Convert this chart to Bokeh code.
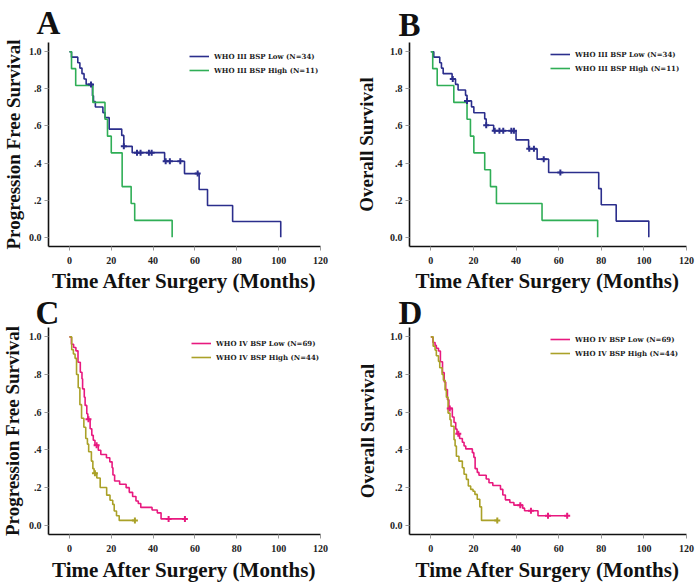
from bokeh.plotting import figure
from bokeh.layouts import gridplot
from bokeh.models import Range1d, FixedTicker, Legend, LegendItem, Title
from bokeh.embed import file_html
from bokeh.resources import INLINE

# ---------------- data ----------------
X_TICKS = [0, 20, 40, 60, 80, 100, 120]
Y_TICKS = [0.0, 0.2, 0.4, 0.6, 0.8, 1.0]
Y_TICK_LABELS = ["0.0", ".2", ".4", ".6", ".8", "1.0"]

# Panel A: WHO III, progression free survival
a_low_t = [0, 1, 4, 5, 6, 7, 8, 11, 11.5, 12.4, 16, 17, 19, 25, 26, 30, 45.5, 55, 62, 66, 78, 101]
a_low_s = [1.0, .971, .941, .912, .882, .853, .824, .763, .732, .702, .672, .645, .583, .549, .490, .456, .410, .343, .257, .171, .085, 0.0]
a_low_ct = [10.3, 26, 32.3, 34, 38, 39.3, 46, 48, 53, 61.3]
a_low_cs = [.824, .490, .456, .456, .456, .456, .410, .410, .410, .343]
a_high_t = [0, 1, 3, 11.2, 17, 18.2, 20, 25.2, 29.5, 31.2, 49.1]
a_high_s = [1.0, .909, .818, .727, .636, .545, .455, .273, .182, .091, 0.0]

# Panel B: WHO III, overall survival
b_low_t = [0, 1.4, 4.2, 5, 5.8, 10, 11.6, 12.8, 16.3, 17, 19.1, 20.2, 25.3, 26, 29.5, 40, 45.9, 49.9, 55.3, 78.8, 80, 87, 102.3]
b_low_s = [1.0, .971, .941, .912, .882, .853, .824, .794, .765, .735, .703, .671, .638, .604, .574, .525, .477, .421, .349, .262, .175, .087, 0.0]
b_low_ct = [10.3, 17, 26, 30, 32.2, 34, 37.8, 39, 46.2, 48.4, 53, 60.8]
b_low_cs = [.853, .735, .604, .574, .574, .574, .574, .574, .477, .477, .421, .349]
b_high_t = [0, 0.9, 3, 10.8, 17, 18.6, 20.2, 25.3, 28, 30.8, 52.2, 78.3]
b_high_s = [1.0, .909, .818, .727, .636, .545, .455, .364, .273, .182, .091, 0.0]

# Panel C: WHO IV, progression free survival
c_low_t = [0, 0.95, 2, 3.1, 4.1, 5.2, 6.0, 6.3, 7.1, 7.5, 8.3, 8.8, 9.9, 10.7, 11.4, 12.2, 13.8, 15.0, 17.7, 19.3, 20.4,
           20.8, 21.6, 24, 27.1, 28.6, 30.2, 31.8, 32.9, 34.1, 39.5, 42, 43.8, 55.2]
c_low_s = [1.0, .961, .944, .926, .865, .812, .777, .724, .68, .636, .592, .562, .512, .477, .451, .424, .398, .375, .358, .336, .305,
           .266, .234, .217, .199, .174, .152, .128, .115, .094, .08, .065, .033, .033]
c_low_ct = [9.1, 13, 47.4, 55.2]
c_low_cs = [.562, .424, .033, .033]
c_high_t = [0, 1.1, 1.9, 2.7, 3.4, 4.2, 5.0, 5.8, 6.9, 7.8, 8.6, 9.2, 10.5, 11.2, 11.8, 13.1, 14.7, 17.8, 19.4, 20.7, 21.4, 22.5, 23.8, 31.3]
c_high_s = [1.0, .932, .909, .886, .80, .73, .64, .568, .52, .46, .43, .39, .34, .30, .275, .25, .20, .159, .132, .11, .075, .05, .025, .025]
c_high_ct = [12.2, 31.3]
c_high_cs = [.275, .025]

# Panel D: WHO IV, overall survival
d_low_t = [0, 1, 2, 2.6, 3.6, 4.5, 5.5, 6.3, 7, 7.8, 8.5, 10.1, 10.9, 11.7, 12.3, 13.5, 14.8, 15.6, 16.4, 19.5, 20.2, 20.8, 21.8,
           22.6, 26, 27.3, 29.1, 32.7, 33.8, 35, 37.1, 39, 43.1, 44, 50.3, 64]
d_low_s = [1.0, .97, .955, .94, .925, .868, .81, .76, .72, .666, .62, .574, .545, .51, .485, .46, .44, .42, .405, .385, .36, .30, .28,
           .265, .245, .225, .21, .19, .16, .134, .12, .106, .09, .076, .05, .05]
d_low_ct = [8.9, 12.9, 42, 47, 55, 64]
d_low_cs = [.62, .485, .106, .076, .05, .05]
d_high_t = [0, 1.1, 2, 2.6, 3.6, 4.2, 5.3, 5.9, 6.7, 7.3, 8.1, 9, 9.5, 10.9, 11.4, 12, 13.2, 14.8, 15.6, 16.7, 17.6, 18.7, 19.8,
            20.7, 21.8, 23, 23.8, 31.2]
d_high_s = [1.0, .95, .93, .9, .87, .836, .80, .77, .718, .68, .595, .56, .525, .454, .42, .366, .34, .305, .27, .243, .208, .19, .18,
            .163, .137, .097, .025, .025]
d_high_ct = [31.2]
d_high_cs = [.025]

# ---------------- styling / layout ----------------
FONT = "Liberation Serif"
LEG_FONT = "DejaVu Serif"
BLUE = "#2b2e8c"
GREEN = "#2fae56"
PINK = "#e8197f"
OLIVE = "#aaa128"
X_RANGE = (-10, 120)
Y_RANGE = (-0.05, 1.05)

# figure size, frame borders (left, top) and frame size, title standoffs
SPECS = {
    "A": dict(W=348, H=294, bl=47, bt=42, fw=273, fh=204, ttl_off=-12, ttl_so=3, ylab_so=0, xlab_so=1, leg=(141, 169)),
    "B": dict(W=347, H=294, bl=61, bt=38, fw=277, fh=208, ttl_off=-11, ttl_so=0, ylab_so=15, xlab_so=1, leg=(141, 171)),
    "C": dict(W=348, H=290, bl=48, bt=32, fw=277, fh=208, ttl_off=-13, ttl_so=-7, ylab_so=2, xlab_so=3, leg=(143, 170)),
    "D": dict(W=347, H=290, bl=60, bt=33, fw=278, fh=208, ttl_off=-11, ttl_so=-6, ylab_so=14, xlab_so=2, leg=(141, 174)),
}


def panel(key, ylabel, low, high, low_lbl, high_lbl, c_low, c_high):
    sp = SPECS[key]
    p = figure(width=sp["W"], height=sp["H"], x_range=Range1d(*X_RANGE), y_range=Range1d(*Y_RANGE),
               output_backend="svg", toolbar_location=None, title=None,
               min_border_left=sp["bl"], min_border_top=sp["bt"],
               min_border_right=sp["W"] - sp["bl"] - sp["fw"],
               min_border_bottom=sp["H"] - sp["bt"] - sp["fh"])
    p.outline_line_color = None
    p.xgrid.visible = False
    p.ygrid.visible = False
    p.background_fill_color = "white"
    p.border_fill_color = "white"
    p.xaxis.ticker = FixedTicker(ticks=X_TICKS)
    p.yaxis.ticker = FixedTicker(ticks=Y_TICKS)
    p.yaxis.major_label_overrides = dict(zip(Y_TICKS, Y_TICK_LABELS))
    for ax in (p.xaxis, p.yaxis):
        ax.axis_line_color = "#111111"
        ax.axis_line_width = 1.6
        ax.major_tick_line_color = "#999999"
        ax.major_tick_in = 0
        ax.major_tick_out = 4
        ax.minor_tick_line_color = None
        ax.major_label_text_font = FONT
        ax.major_label_text_font_style = "bold"
        ax.major_label_text_font_size = "10px"
        ax.major_label_text_color = "#222222"
    p.xaxis.major_label_standoff = 6
    p.yaxis.major_label_standoff = 3

    (lt, ls, lct, lcs) = low
    (ht, hs, hct, hcs) = high
    r_low = p.step(lt, ls, mode="after", line_color=c_low, line_width=1.6)
    r_high = p.step(ht, hs, mode="after", line_color=c_high, line_width=1.6)
    if lct:
        p.scatter(lct, lcs, marker="cross", size=6, line_width=2, color=c_low)
    if hct:
        p.scatter(hct, hcs, marker="cross", size=6, line_width=2, color=c_high)

    legend = Legend(items=[LegendItem(label=low_lbl, renderers=[r_low]),
                           LegendItem(label=high_lbl, renderers=[r_high])],
                    location=sp["leg"], padding=0, margin=0, spacing=0,
                    glyph_width=20, glyph_height=14, label_height=14, label_standoff=5,
                    label_text_font=LEG_FONT, label_text_font_style="bold", label_text_font_size="7px",
                    label_text_color="#222222", border_line_color=None, background_fill_alpha=0)
    p.add_layout(legend)

    # panel letter
    p.add_layout(Title(text=key, align="left", offset=sp["ttl_off"], standoff=sp["ttl_so"],
                       text_font=FONT, text_font_style="bold", text_font_size="33px",
                       text_color="#111111"), "above")
    # axis titles
    p.add_layout(Title(text=ylabel, align="center", vertical_align="top", standoff=sp["ylab_so"],
                       text_font=FONT, text_font_style="bold", text_font_size="19px",
                       text_color="#111111"), "left")
    p.add_layout(Title(text="Time After Surgery (Months)", align="center", vertical_align="bottom",
                       standoff=sp["xlab_so"], text_font=FONT, text_font_style="bold",
                       text_font_size="21px", text_color="#111111"), "below")
    return p


pa = panel("A", "Progression Free Survival",
           (a_low_t, a_low_s, a_low_ct, a_low_cs), (a_high_t, a_high_s, [], []),
           "WHO III BSP Low (N=34)", "WHO III BSP High (N=11)", BLUE, GREEN)
pb = panel("B", "Overall Survival",
           (b_low_t, b_low_s, b_low_ct, b_low_cs), (b_high_t, b_high_s, [], []),
           "WHO III BSP Low (N=34)", "WHO III BSP High (N=11)", BLUE, GREEN)
pc = panel("C", "Progression Free Survival",
           (c_low_t, c_low_s, c_low_ct, c_low_cs), (c_high_t, c_high_s, c_high_ct, c_high_cs),
           "WHO IV BSP Low (N=69)", "WHO IV BSP High (N=44)", PINK, OLIVE)
pd_ = panel("D", "Overall Survival",
            (d_low_t, d_low_s, d_low_ct, d_low_cs), (d_high_t, d_high_s, d_high_ct, d_high_cs),
            "WHO IV BSP Low (N=69)", "WHO IV BSP High (N=44)", PINK, OLIVE)

grid = gridplot([[pa, pb], [pc, pd_]], toolbar_location=None)
open("out.html", "w").write(file_html(grid, INLINE))
